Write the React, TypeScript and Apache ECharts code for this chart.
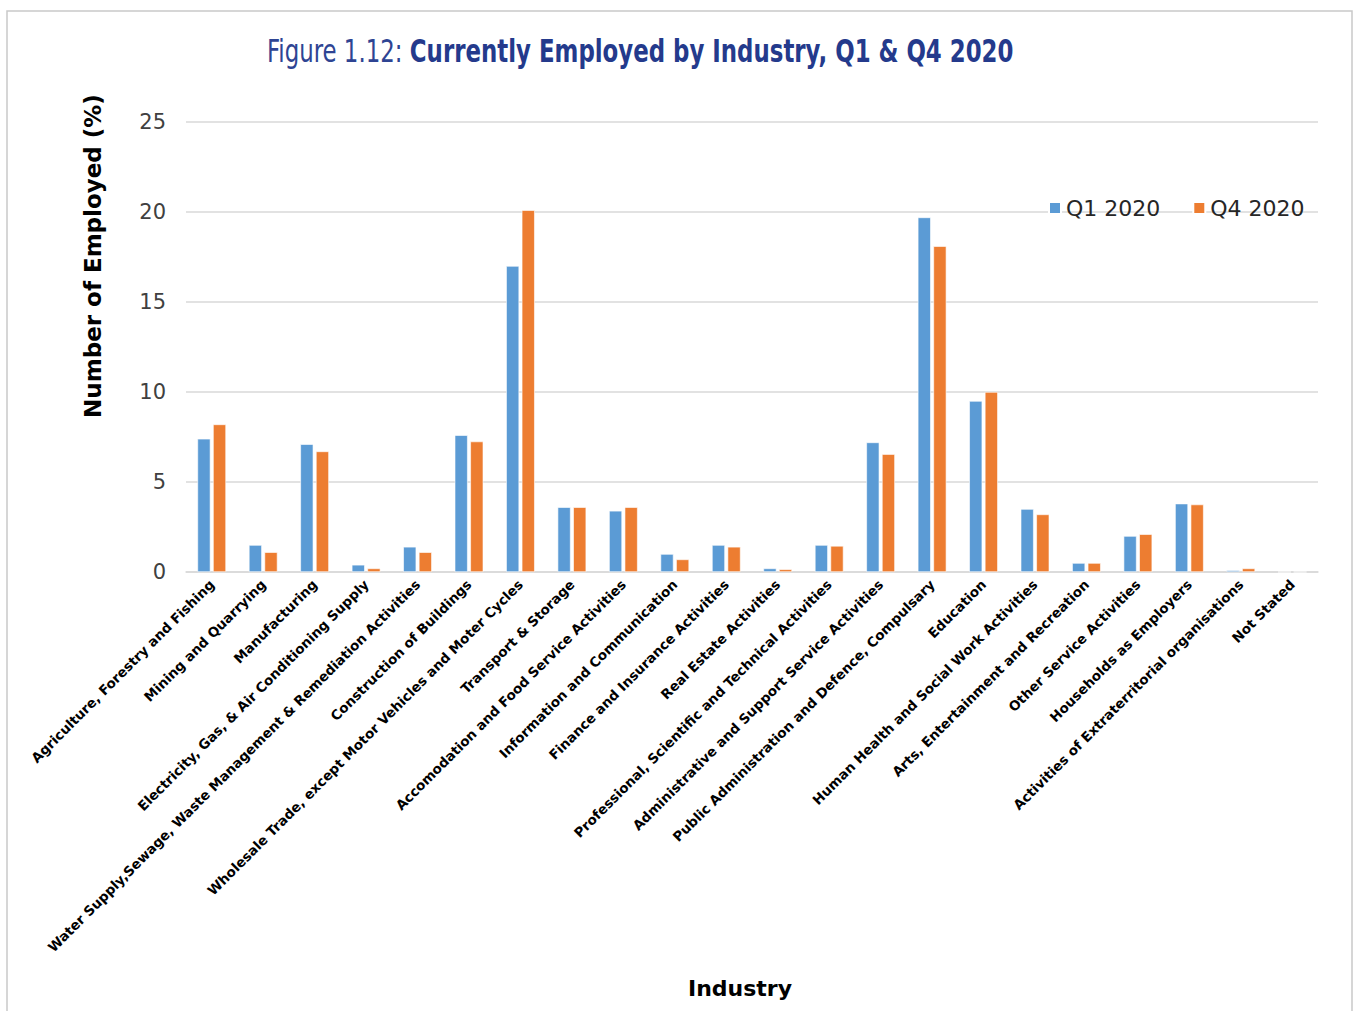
import React, { useEffect, useRef } from "react";
import * as echarts from "echarts";

const categories = [
  "Agriculture, Forestry and Fishing",
  "Mining and Quarrying",
  "Manufacturing",
  "Electricity, Gas, & Air Conditioning Supply",
  "Water Supply,Sewage, Waste Management & Remediation Activities",
  "Construction of Buildings",
  "Wholesale Trade, except Motor Vehicles and Moter Cycles",
  "Transport & Storage",
  "Accomodation and Food Service Activities",
  "Information and Communication",
  "Finance and Insurance Activities",
  "Real Estate Activities",
  "Professional, Scientific and Technical Activities",
  "Administrative and Support Service Activities",
  "Public Administration and Defence, Compulsary",
  "Education",
  "Human Health and Social Work Activities",
  "Arts, Entertainment and Recreation",
  "Other Service Activities",
  "Households as Employers",
  "Activities of Extraterritorial organisations",
  "Not Stated",
];

const q1_2020 = [7.4, 1.5, 7.1, 0.4, 1.4, 7.6, 17.0, 3.6, 3.4, 1.0, 1.5, 0.2, 1.5, 7.2, 19.7, 9.5, 3.5, 0.5, 2.0, 3.8, 0.1, 0];
const q4_2020 = [8.2, 1.1, 6.7, 0.2, 1.1, 7.25, 20.1, 3.6, 3.6, 0.7, 1.4, 0.15, 1.45, 6.55, 18.1, 10.0, 3.2, 0.5, 2.1, 3.75, 0.2, 0];

const seriesNames = ["Q1 2020", "Q4 2020"];
const yTicks = { min: 0, max: 25, interval: 5 };

const titleLight = "Figure 1.12: ";
const titleBold = "Currently Employed by Industry, Q1 & Q4 2020";
const yAxisTitle = "Number of Employed (%)";
const xAxisTitle = "Industry";

const condensed = '"DejaVu Sans Condensed", "DejaVu Sans", sans-serif';
const gothic = '"DejaVu Sans", "Noto Sans", sans-serif';

export default function App() {
  const ref = useRef<HTMLDivElement>(null);
  useEffect(() => {
    if (!ref.current) return;
    const chart = echarts.init(ref.current, undefined, { renderer: "svg" });
    chart.setOption({
      animation: false,
      backgroundColor: "#ffffff",
      graphic: [
        {
          type: "rect",
          shape: { x: 7, y: 11, width: 1345, height: 1010 },
          style: { fill: "none", stroke: "#c9c9c9", lineWidth: 1.5 },
          silent: true,
          z: -1,
        },
        {
          type: "text",
          x: 267,
          y: 51,
          scaleX: 0.795,
          style: {
            text: `{a|${titleLight}}{b|${titleBold}}`,
            verticalAlign: "middle",
            rich: {
              a: { fontFamily: condensed, fontSize: 32, fontWeight: 300, fill: "#2e4493" },
              b: { fontFamily: condensed, fontSize: 32, fontWeight: "bold", fill: "#243a8c" },
            },
          },
        },
        {
          type: "text",
          x: 93,
          y: 256,
          rotation: Math.PI / 2,
          style: {
            text: yAxisTitle,
            align: "center",
            verticalAlign: "middle",
            fontFamily: gothic,
            fontSize: 23,
            fontWeight: "bold",
            fill: "#000",
          },
        },
      ],
      legend: {
        data: seriesNames,
        left: 1043,
        top: 192,
        itemWidth: 12,
        itemHeight: 12,
        itemGap: 32,
        icon: "rect",
        textStyle: { fontFamily: gothic, fontSize: 22, color: "#262626", padding: [2, 0, 0, 0] },
      },
      grid: { left: 186, right: 36, top: 122, bottom: 439, containLabel: false },
      xAxis: {
        type: "category",
        data: categories,
        name: xAxisTitle,
        nameLocation: "middle",
        nameGap: 405,
        nameTextStyle: { fontFamily: gothic, fontSize: 22, fontWeight: "bold", color: "#000", padding: [0, 24, 0, 0] },
        axisLine: { lineStyle: { color: "#d9d9d9", width: 1.5 } },
        axisTick: { show: false },
        axisLabel: {
          interval: 0,
          rotate: 45,
          margin: 10,
          fontFamily: gothic,
          fontSize: 13.5,
          fontWeight: "bold",
          color: "#000",
        },
      },
      yAxis: {
        type: "value",
        min: yTicks.min,
        max: yTicks.max,
        interval: yTicks.interval,
        axisLine: { show: false },
        axisTick: { show: false },
        axisLabel: { fontFamily: gothic, fontSize: 21, color: "#404040", margin: 20 },
        splitLine: { lineStyle: { color: "#d9d9d9", width: 1.5 } },
      },
      series: [
        {
          name: seriesNames[0],
          type: "bar",
          data: q1_2020,
          barWidth: 13,
          barGap: "20%",
          itemStyle: { color: "#5b9bd5", borderColor: "#ffffff", borderWidth: 0.6 },
        },
        {
          name: seriesNames[1],
          type: "bar",
          data: q4_2020,
          barWidth: 13,
          barGap: "20%",
          itemStyle: { color: "#ed7d31", borderColor: "#ffffff", borderWidth: 0.6 },
        },
      ],
    });
    return () => chart.dispose();
  }, []);
  return <div ref={ref} style={{ position: "fixed", left: 0, top: 0, width: 1354, height: 1011 }} />;
}
